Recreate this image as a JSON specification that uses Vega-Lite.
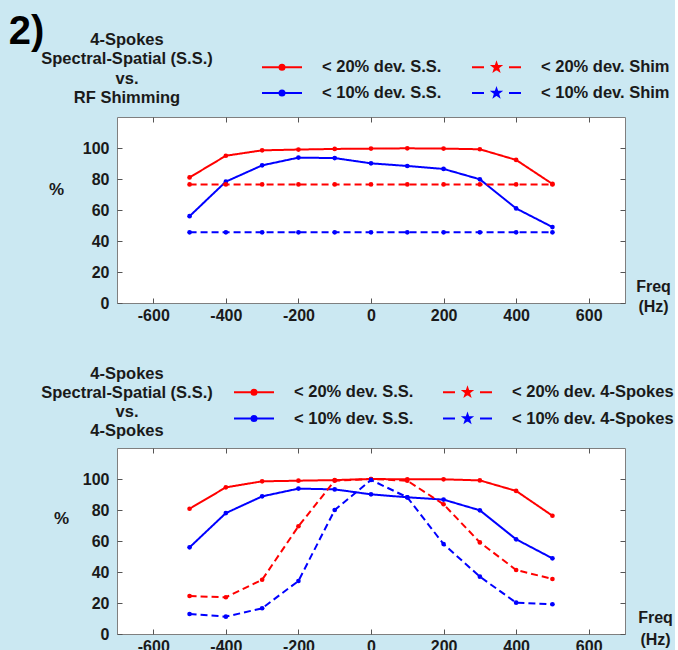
{
  "$schema": "https://vega.github.io/schema/vega-lite/v6.json",
  "background": "#cbe8f2",
  "padding": {"left": 8, "top": 11, "right": 0, "bottom": 0},
  "title": {"text": "2)", "anchor": "start", "frame": "bounds", "fontSize": 40, "fontWeight": "bold", "color": "#000000", "offset": -20.5, "dx": -32},
  "datasets": {
    "shim": [
      {"freq": -500, "pct": 81, "series": "< 20% dev. S.S."},
      {"freq": -400, "pct": 95, "series": "< 20% dev. S.S."},
      {"freq": -300, "pct": 98.5, "series": "< 20% dev. S.S."},
      {"freq": -200, "pct": 99, "series": "< 20% dev. S.S."},
      {"freq": -100, "pct": 99.4, "series": "< 20% dev. S.S."},
      {"freq": 0, "pct": 99.6, "series": "< 20% dev. S.S."},
      {"freq": 100, "pct": 99.8, "series": "< 20% dev. S.S."},
      {"freq": 200, "pct": 99.6, "series": "< 20% dev. S.S."},
      {"freq": 300, "pct": 99.2, "series": "< 20% dev. S.S."},
      {"freq": 400, "pct": 92.3, "series": "< 20% dev. S.S."},
      {"freq": 500, "pct": 76.8, "series": "< 20% dev. S.S."},
      {"freq": -500, "pct": 56, "series": "< 10% dev. S.S."},
      {"freq": -400, "pct": 78.3, "series": "< 10% dev. S.S."},
      {"freq": -300, "pct": 88.8, "series": "< 10% dev. S.S."},
      {"freq": -200, "pct": 93.8, "series": "< 10% dev. S.S."},
      {"freq": -100, "pct": 93.5, "series": "< 10% dev. S.S."},
      {"freq": 0, "pct": 90.1, "series": "< 10% dev. S.S."},
      {"freq": 100, "pct": 88.4, "series": "< 10% dev. S.S."},
      {"freq": 200, "pct": 86.5, "series": "< 10% dev. S.S."},
      {"freq": 300, "pct": 79.8, "series": "< 10% dev. S.S."},
      {"freq": 400, "pct": 61, "series": "< 10% dev. S.S."},
      {"freq": 500, "pct": 49, "series": "< 10% dev. S.S."},
      {"freq": -500, "pct": 76.5, "series": "< 20% dev. Shim"},
      {"freq": -400, "pct": 76.5, "series": "< 20% dev. Shim"},
      {"freq": -300, "pct": 76.5, "series": "< 20% dev. Shim"},
      {"freq": -200, "pct": 76.5, "series": "< 20% dev. Shim"},
      {"freq": -100, "pct": 76.5, "series": "< 20% dev. Shim"},
      {"freq": 0, "pct": 76.5, "series": "< 20% dev. Shim"},
      {"freq": 100, "pct": 76.5, "series": "< 20% dev. Shim"},
      {"freq": 200, "pct": 76.5, "series": "< 20% dev. Shim"},
      {"freq": 300, "pct": 76.5, "series": "< 20% dev. Shim"},
      {"freq": 400, "pct": 76.5, "series": "< 20% dev. Shim"},
      {"freq": 500, "pct": 76.5, "series": "< 20% dev. Shim"},
      {"freq": -500, "pct": 45.6, "series": "< 10% dev. Shim"},
      {"freq": -400, "pct": 45.6, "series": "< 10% dev. Shim"},
      {"freq": -300, "pct": 45.6, "series": "< 10% dev. Shim"},
      {"freq": -200, "pct": 45.6, "series": "< 10% dev. Shim"},
      {"freq": -100, "pct": 45.6, "series": "< 10% dev. Shim"},
      {"freq": 0, "pct": 45.6, "series": "< 10% dev. Shim"},
      {"freq": 100, "pct": 45.6, "series": "< 10% dev. Shim"},
      {"freq": 200, "pct": 45.6, "series": "< 10% dev. Shim"},
      {"freq": 300, "pct": 45.6, "series": "< 10% dev. Shim"},
      {"freq": 400, "pct": 45.6, "series": "< 10% dev. Shim"},
      {"freq": 500, "pct": 45.6, "series": "< 10% dev. Shim"}
    ],
    "spokes": [
      {"freq": -500, "pct": 80.8, "series": "< 20% dev. S.S."},
      {"freq": -400, "pct": 94.6, "series": "< 20% dev. S.S."},
      {"freq": -300, "pct": 98.5, "series": "< 20% dev. S.S."},
      {"freq": -200, "pct": 98.9, "series": "< 20% dev. S.S."},
      {"freq": -100, "pct": 99.3, "series": "< 20% dev. S.S."},
      {"freq": 0, "pct": 100, "series": "< 20% dev. S.S."},
      {"freq": 100, "pct": 99.8, "series": "< 20% dev. S.S."},
      {"freq": 200, "pct": 99.8, "series": "< 20% dev. S.S."},
      {"freq": 300, "pct": 99.1, "series": "< 20% dev. S.S."},
      {"freq": 400, "pct": 92.3, "series": "< 20% dev. S.S."},
      {"freq": 500, "pct": 76.3, "series": "< 20% dev. S.S."},
      {"freq": -500, "pct": 55.9, "series": "< 10% dev. S.S."},
      {"freq": -400, "pct": 78, "series": "< 10% dev. S.S."},
      {"freq": -300, "pct": 88.8, "series": "< 10% dev. S.S."},
      {"freq": -200, "pct": 93.8, "series": "< 10% dev. S.S."},
      {"freq": -100, "pct": 93.3, "series": "< 10% dev. S.S."},
      {"freq": 0, "pct": 90.1, "series": "< 10% dev. S.S."},
      {"freq": 100, "pct": 88.2, "series": "< 10% dev. S.S."},
      {"freq": 200, "pct": 86.7, "series": "< 10% dev. S.S."},
      {"freq": 300, "pct": 79.8, "series": "< 10% dev. S.S."},
      {"freq": 400, "pct": 61.1, "series": "< 10% dev. S.S."},
      {"freq": 500, "pct": 48.8, "series": "< 10% dev. S.S."},
      {"freq": -500, "pct": 24.5, "series": "< 20% dev. 4-Spokes"},
      {"freq": -400, "pct": 23.7, "series": "< 20% dev. 4-Spokes"},
      {"freq": -300, "pct": 35, "series": "< 20% dev. 4-Spokes"},
      {"freq": -200, "pct": 69.5, "series": "< 20% dev. 4-Spokes"},
      {"freq": -100, "pct": 98.9, "series": "< 20% dev. 4-Spokes"},
      {"freq": 0, "pct": 100, "series": "< 20% dev. 4-Spokes"},
      {"freq": 100, "pct": 98.9, "series": "< 20% dev. 4-Spokes"},
      {"freq": 200, "pct": 83.7, "series": "< 20% dev. 4-Spokes"},
      {"freq": 300, "pct": 59.1, "series": "< 20% dev. 4-Spokes"},
      {"freq": 400, "pct": 41.3, "series": "< 20% dev. 4-Spokes"},
      {"freq": 500, "pct": 35.5, "series": "< 20% dev. 4-Spokes"},
      {"freq": -500, "pct": 12.9, "series": "< 10% dev. 4-Spokes"},
      {"freq": -400, "pct": 11.2, "series": "< 10% dev. 4-Spokes"},
      {"freq": -300, "pct": 16.6, "series": "< 10% dev. 4-Spokes"},
      {"freq": -200, "pct": 34.2, "series": "< 10% dev. 4-Spokes"},
      {"freq": -100, "pct": 80, "series": "< 10% dev. 4-Spokes"},
      {"freq": 0, "pct": 99.4, "series": "< 10% dev. 4-Spokes"},
      {"freq": 100, "pct": 88.2, "series": "< 10% dev. 4-Spokes"},
      {"freq": 200, "pct": 58, "series": "< 10% dev. 4-Spokes"},
      {"freq": 300, "pct": 37, "series": "< 10% dev. 4-Spokes"},
      {"freq": 400, "pct": 20.2, "series": "< 10% dev. 4-Spokes"},
      {"freq": 500, "pct": 19.2, "series": "< 10% dev. 4-Spokes"}
    ]
  },
  "spacing": 41,
  "vconcat": [
    {
      "width": 508,
      "height": 186,
      "data": {"name": "shim"},
      "title": {"text": ["4-Spokes", "Spectral-Spatial (S.S.)", "vs.", "RF Shimming"], "anchor": "start", "align": "center", "frame": "group", "dx": 10, "offset": -50.5, "lineHeight": 19.5},
      "layer": [
        {
          "mark": {"type": "line", "strokeWidth": 2},
          "encoding": {
            "x": {"field": "freq", "type": "quantitative", "scale": {"domain": [-700, 700], "nice": false, "zero": false},
              "axis": {"orient": "bottom", "values": [-600, -400, -200, 0, 200, 400, 600], "labelExpr": "'' + datum.value", "tickSize": -5, "labelPadding": 9, "labelFlush": false, "labelOverlap": false, "title": ["Freq", "(Hz)"], "titleX": 536, "titleY": -25, "titleAlign": "center", "titleBaseline": "top", "titleLineHeight": 20}},
            "y": {"field": "pct", "type": "quantitative", "scale": {"domain": [0, 120], "nice": false},
              "axis": {"orient": "left", "values": [0, 20, 40, 60, 80, 100], "tickSize": -5, "labelPadding": 13, "title": "%", "titleAngle": 0, "titleX": -61, "titleY": 72, "titleAlign": "center", "titleBaseline": "middle", "titleFontSize": 17}},
            "color": {"field": "series", "type": "nominal", "legend": null,
              "scale": {"domain": ["< 20% dev. S.S.", "< 20% dev. Shim", "< 10% dev. S.S.", "< 10% dev. Shim"], "range": ["#ff0000", "#ff0000", "#0000ff", "#0000ff"]}},
            "strokeDash": {"field": "series", "type": "nominal", "legend": null,
              "scale": {"domain": ["< 20% dev. S.S.", "< 20% dev. Shim", "< 10% dev. S.S.", "< 10% dev. Shim"], "range": [[1, 0], [7, 4], [1, 0], [7, 4]]}}
          }
        },
        {
          "mark": {"type": "point", "filled": true, "size": 22, "opacity": 1},
          "encoding": {
            "x": {"field": "freq", "type": "quantitative", "axis": {"orient": "top", "values": [-600, -400, -200, 0, 200, 400, 600], "tickSize": -5, "labels": false, "title": null}},
            "y": {"field": "pct", "type": "quantitative", "axis": {"orient": "right", "values": [0, 20, 40, 60, 80, 100], "tickSize": -5, "labels": false, "title": null}},
            "color": {"field": "series", "type": "nominal", "legend": null}
          }
        },
        {
          "mark": {"type": "point", "opacity": 0},
          "encoding": {
            "x": {"field": "freq", "type": "quantitative", "axis": null},
            "y": {"field": "pct", "type": "quantitative", "axis": null},
            "fill": {"field": "series", "type": "nominal",
              "scale": {"domain": ["< 20% dev. S.S.", "< 10% dev. S.S.", "< 20% dev. Shim", "< 10% dev. Shim"], "range": ["#ff0000", "#0000ff", "#ff0000", "#0000ff"]},
              "legend": {"title": null, "orient": "none", "legendX": 154, "legendY": -61, "columns": 2, "columnPadding": 26, "rowPadding": 6, "symbolSize": 400, "symbolStrokeWidth": 2, "symbolOpacity": 1, "labelOffset": 29, "labelLimit": 300, "padding": 0}},
            "stroke": {"field": "series", "type": "nominal",
              "scale": {"domain": ["< 20% dev. S.S.", "< 10% dev. S.S.", "< 20% dev. Shim", "< 10% dev. Shim"], "range": ["#ff0000", "#0000ff", "#ff0000", "#0000ff"]},
              "legend": {"title": null, "orient": "none", "legendX": 154, "legendY": -61, "columns": 2, "columnPadding": 26, "rowPadding": 6, "symbolSize": 400, "symbolStrokeWidth": 2, "symbolOpacity": 1, "labelOffset": 29, "labelLimit": 300, "padding": 0}},
            "shape": {"field": "series", "type": "nominal",
              "scale": {"domain": ["< 20% dev. S.S.", "< 10% dev. S.S.", "< 20% dev. Shim", "< 10% dev. Shim"],
                "range": ["M-2,0H2M-0.25,0A0.25,0.25,0,1,0,0.25,0A0.25,0.25,0,1,0,-0.25,0Z",
                          "M-2,0H2M-0.25,0A0.25,0.25,0,1,0,0.25,0A0.25,0.25,0,1,0,-0.25,0Z",
                          "M-2.9,0H-1.7M0.8,0H2M-0.45,-0.4L-0.356,-0.129L-0.07,-0.124L-0.298,0.049L-0.215,0.324L-0.45,0.16L-0.685,0.324L-0.602,0.049L-0.83,-0.124L-0.544,-0.129Z",
                          "M-2.9,0H-1.7M0.8,0H2M-0.45,-0.4L-0.356,-0.129L-0.07,-0.124L-0.298,0.049L-0.215,0.324L-0.45,0.16L-0.685,0.324L-0.602,0.049L-0.83,-0.124L-0.544,-0.129Z"]},
              "legend": {"title": null, "orient": "none", "legendX": 154, "legendY": -61, "columns": 2, "columnPadding": 26, "rowPadding": 6, "symbolSize": 400, "symbolStrokeWidth": 2, "symbolOpacity": 1, "labelOffset": 29, "labelLimit": 300, "padding": 0}}
          }
        }
      ],
      "resolve": {"axis": {"x": "independent", "y": "independent"}}
    },
    {
      "width": 508,
      "height": 186,
      "data": {"name": "spokes"},
      "title": {"text": ["4-Spokes", "Spectral-Spatial (S.S.)", "vs.", "4-Spokes"], "anchor": "start", "align": "center", "frame": "group", "dx": 10, "offset": -58, "lineHeight": 19},
      "layer": [
        {
          "mark": {"type": "line", "strokeWidth": 2},
          "encoding": {
            "x": {"field": "freq", "type": "quantitative", "scale": {"domain": [-700, 700], "nice": false, "zero": false},
              "axis": {"orient": "bottom", "values": [-600, -400, -200, 0, 200, 400, 600], "labelExpr": "'' + datum.value", "tickSize": -5, "labelPadding": 9, "labelFlush": false, "labelOverlap": false, "title": ["Freq", "(Hz)"], "titleX": 538, "titleY": -25, "titleAlign": "center", "titleBaseline": "top", "titleLineHeight": 22}},
            "y": {"field": "pct", "type": "quantitative", "scale": {"domain": [0, 120], "nice": false},
              "axis": {"orient": "left", "values": [0, 20, 40, 60, 80, 100], "tickSize": -5, "labelPadding": 13, "title": "%", "titleAngle": 0, "titleX": -56, "titleY": 70, "titleAlign": "center", "titleBaseline": "middle", "titleFontSize": 17}},
            "color": {"field": "series", "type": "nominal", "legend": null,
              "scale": {"domain": ["< 20% dev. S.S.", "< 20% dev. 4-Spokes", "< 10% dev. S.S.", "< 10% dev. 4-Spokes"], "range": ["#ff0000", "#ff0000", "#0000ff", "#0000ff"]}},
            "strokeDash": {"field": "series", "type": "nominal", "legend": null,
              "scale": {"domain": ["< 20% dev. S.S.", "< 20% dev. 4-Spokes", "< 10% dev. S.S.", "< 10% dev. 4-Spokes"], "range": [[1, 0], [7, 4], [1, 0], [7, 4]]}}
          }
        },
        {
          "mark": {"type": "point", "filled": true, "size": 22, "opacity": 1},
          "encoding": {
            "x": {"field": "freq", "type": "quantitative", "axis": {"orient": "top", "values": [-600, -400, -200, 0, 200, 400, 600], "tickSize": -5, "labels": false, "title": null}},
            "y": {"field": "pct", "type": "quantitative", "axis": {"orient": "right", "values": [0, 20, 40, 60, 80, 100], "tickSize": -5, "labels": false, "title": null}},
            "color": {"field": "series", "type": "nominal", "legend": null}
          }
        },
        {
          "mark": {"type": "point", "opacity": 0},
          "encoding": {
            "x": {"field": "freq", "type": "quantitative", "axis": null},
            "y": {"field": "pct", "type": "quantitative", "axis": null},
            "fill": {"field": "series", "type": "nominal",
              "scale": {"domain": ["< 20% dev. S.S.", "< 10% dev. S.S.", "< 20% dev. 4-Spokes", "< 10% dev. 4-Spokes"], "range": ["#ff0000", "#0000ff", "#ff0000", "#0000ff"]},
              "legend": {"title": null, "orient": "none", "legendX": 126, "legendY": -67, "columns": 2, "columnPadding": 25, "rowPadding": 6.5, "symbolSize": 400, "symbolStrokeWidth": 2, "symbolOpacity": 1, "labelOffset": 29, "labelLimit": 300, "padding": 0}},
            "stroke": {"field": "series", "type": "nominal",
              "scale": {"domain": ["< 20% dev. S.S.", "< 10% dev. S.S.", "< 20% dev. 4-Spokes", "< 10% dev. 4-Spokes"], "range": ["#ff0000", "#0000ff", "#ff0000", "#0000ff"]},
              "legend": {"title": null, "orient": "none", "legendX": 126, "legendY": -67, "columns": 2, "columnPadding": 25, "rowPadding": 6.5, "symbolSize": 400, "symbolStrokeWidth": 2, "symbolOpacity": 1, "labelOffset": 29, "labelLimit": 300, "padding": 0}},
            "shape": {"field": "series", "type": "nominal",
              "scale": {"domain": ["< 20% dev. S.S.", "< 10% dev. S.S.", "< 20% dev. 4-Spokes", "< 10% dev. 4-Spokes"],
                "range": ["M-2,0H2M-0.25,0A0.25,0.25,0,1,0,0.25,0A0.25,0.25,0,1,0,-0.25,0Z",
                          "M-2,0H2M-0.25,0A0.25,0.25,0,1,0,0.25,0A0.25,0.25,0,1,0,-0.25,0Z",
                          "M-2.9,0H-1.7M0.8,0H2M-0.45,-0.4L-0.356,-0.129L-0.07,-0.124L-0.298,0.049L-0.215,0.324L-0.45,0.16L-0.685,0.324L-0.602,0.049L-0.83,-0.124L-0.544,-0.129Z",
                          "M-2.9,0H-1.7M0.8,0H2M-0.45,-0.4L-0.356,-0.129L-0.07,-0.124L-0.298,0.049L-0.215,0.324L-0.45,0.16L-0.685,0.324L-0.602,0.049L-0.83,-0.124L-0.544,-0.129Z"]},
              "legend": {"title": null, "orient": "none", "legendX": 126, "legendY": -67, "columns": 2, "columnPadding": 25, "rowPadding": 6.5, "symbolSize": 400, "symbolStrokeWidth": 2, "symbolOpacity": 1, "labelOffset": 29, "labelLimit": 300, "padding": 0}}
          }
        }
      ],
      "resolve": {"axis": {"x": "independent", "y": "independent"}}
    }
  ],
  "resolve": {
    "scale": {"x": "independent", "y": "independent", "color": "independent", "fill": "independent", "stroke": "independent", "shape": "independent", "strokeDash": "independent"},
    "legend": {"fill": "independent", "stroke": "independent", "shape": "independent", "color": "independent", "strokeDash": "independent"}
  },
  "config": {
    "font": "Liberation Sans",
    "view": {"fill": "white", "stroke": "#7f7f7f", "strokeWidth": 1},
    "axis": {"labelFont": "Liberation Sans", "labelFontSize": 16, "labelFontWeight": "bold", "labelColor": "#1a1a1a", "titleFont": "Liberation Sans", "titleFontSize": 16, "titleFontWeight": "bold", "titleColor": "#1a1a1a", "tickColor": "#555555", "tickWidth": 1, "grid": false, "domain": false},
    "legend": {"labelFont": "Liberation Sans", "labelFontSize": 16.5, "labelFontWeight": "bold", "labelColor": "#1a1a1a"},
    "title": {"font": "Liberation Sans", "fontSize": 16.5, "fontWeight": "bold", "color": "#1a1a1a"}
  }
}
